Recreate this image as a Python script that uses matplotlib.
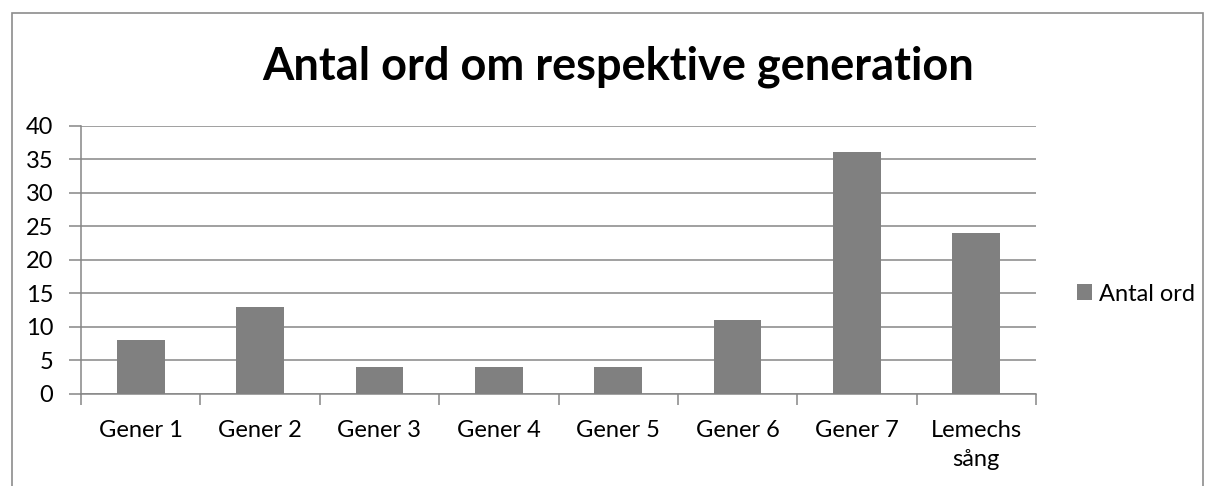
import numpy as np
import matplotlib.pyplot as plt
from matplotlib.patches import Rectangle

categories = ['Gener 1', 'Gener 2', 'Gener 3', 'Gener 4', 'Gener 5', 'Gener 6', 'Gener 7', 'Lemechs\nsång']
antal_ord = [8, 13, 4, 4, 4, 11, 36, 24]
title = 'Antal ord om respektive generation'
series_name = 'Antal ord'

plt.rcParams['font.family'] = ['Lato', 'DejaVu Sans']

fig = plt.figure(figsize=(12.15, 4.86), dpi=100)
ax = fig.add_axes([81 / 1215, 1 - 394 / 486, (1036 - 81) / 1215, (394 - 125.5) / 486])

grey = '#868686'
x = np.arange(len(categories))
ax.bar(x, antal_ord, width=0.4, color='#808080', label=series_name, zorder=3)

ax.set_xlim(-0.5, len(categories) - 0.5)
ax.set_ylim(0, 40)
ax.set_yticks(range(0, 41, 5))
ax.yaxis.grid(True, color=grey, linewidth=1.1, zorder=0)

# category labels centred, tick marks on the boundaries
ax.set_xticks(x)
ax.set_xticklabels(categories, fontsize=17, linespacing=1.45)
ax.tick_params(axis='x', which='major', length=0, pad=19)
ax.set_xticks(np.arange(-0.5, len(categories)), minor=True)
ax.tick_params(axis='x', which='minor', length=8, color=grey, width=1.1)
ax.tick_params(axis='y', length=9, color=grey, width=1.1, labelsize=17, pad=11)

for s in ['top', 'right']:
    ax.spines[s].set_visible(False)
for s in ['left', 'bottom']:
    ax.spines[s].set_color(grey)
    ax.spines[s].set_linewidth(1.1)

fig.text(618 / 1215, 1 - 80 / 486, title, fontsize=32.5, fontweight='bold', ha='center', va='baseline')

fig.legend(loc='center left', bbox_to_anchor=(1077 / 1215, 1 - 294 / 486), frameon=False, fontsize=17,
           handlelength=0.65, handleheight=0.65, handletextpad=0.3, borderpad=0, borderaxespad=0)

# outer chart border (bottom edge is cut off in the original)
fig.patches.append(Rectangle((12 / 1215, -0.05), (1203 - 12) / 1215, 1.05 - 13 / 486,
                             transform=fig.transFigure, fill=False, edgecolor='#8c8c8c', linewidth=1.2))

fig.savefig('out.png', dpi=100)
